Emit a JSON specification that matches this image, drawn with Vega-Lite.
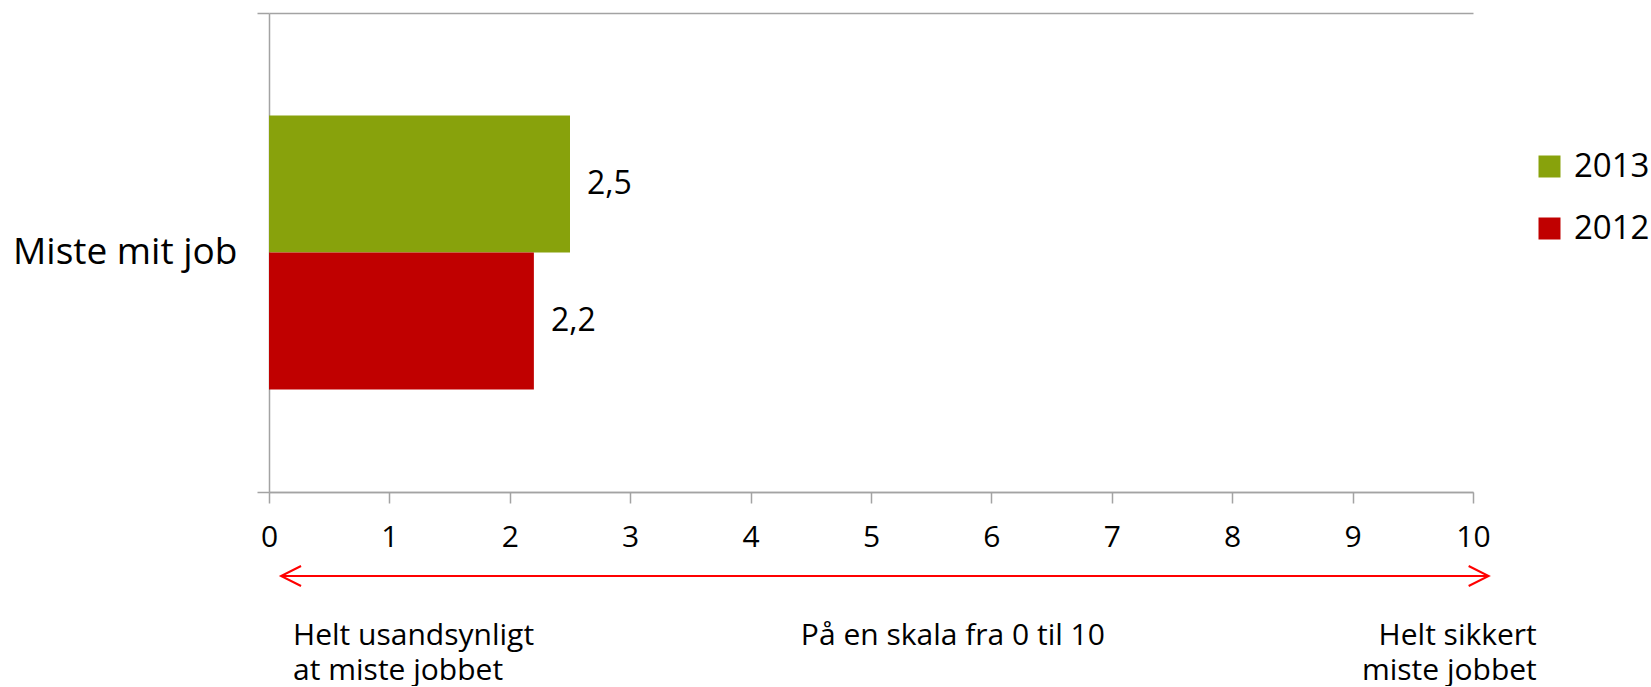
{
  "$schema": "https://vega.github.io/schema/vega-lite/v6.json",
  "padding": {"left": 12, "top": -6, "right": 0, "bottom": 0},
  "background": "white",
  "config": {
    "view": {"stroke": null},
    "font": "Open Sans",
    "text": {"font": "Open Sans", "color": "#000000"}
  },
  "datasets": {
    "bars": [
      {"kategori": "Miste mit job", "aar": "2013", "score": 2.5, "label": "2,5"},
      {"kategori": "Miste mit job", "aar": "2012", "score": 2.2, "label": "2,2"}
    ],
    "pil": [{"del": "pil", "fra": 0.1, "til": 10.13}],
    "pilspidser": [
      {"del": "pil", "retning": "venstre", "x": 0.1},
      {"del": "pil", "retning": "hoejre", "x": 10.13}
    ],
    "tekster": [
      {"del": "tekst", "side": "venstre", "x": 0.2, "tekst": "Helt usandsynligt\nat miste jobbet"},
      {"del": "tekst", "side": "midt", "x": 5.68, "tekst": "På en skala fra 0 til 10"},
      {"del": "tekst", "side": "hoejre", "x": 10.53, "tekst": "Helt sikkert\nmiste jobbet"}
    ]
  },
  "bounds": "flush",
  "spacing": 84,
  "vconcat": [
    {
      "width": 1204,
      "height": 479,
      "data": {"name": "bars"},
      "encoding": {
        "y": {
          "field": "kategori", "type": "nominal", "title": null,
          "scale": {"paddingInner": 0, "paddingOuter": 0},
          "axis": {
            "tickBand": "extent", "grid": true, "gridColor": "#A3A3A3", "gridWidth": 1.5,
            "domainColor": "#A3A3A3", "domainWidth": 1.5,
            "tickColor": "#A3A3A3", "tickWidth": 1.5, "tickSize": 12,
            "labelFontSize": 37, "labelPadding": 20, "labelColor": "#000000", "labelFont": "Open Sans",
            "labelLimit": 0
          }
        },
        "yOffset": {
          "field": "aar", "type": "nominal", "sort": ["2013", "2012"],
          "scale": {"domain": ["2013", "2012"], "paddingInner": 0, "paddingOuter": 0.748}
        },
        "x": {
          "field": "score", "type": "quantitative", "title": null,
          "scale": {"domain": [0, 10], "nice": false},
          "axis": {
            "grid": false, "values": [0,1,2,3,4,5,6,7,8,9,10], "labelOverlap": false,
            "domainColor": "#A3A3A3", "domainWidth": 1.5,
            "tickColor": "#A3A3A3", "tickWidth": 1.5, "tickSize": 11,
            "labelFontSize": 30, "labelPadding": 19, "labelColor": "#000000", "labelFont": "Open Sans",
            "labelFlush": false
          }
        }
      },
      "layer": [
        {
          "mark": {"type": "bar"},
          "encoding": {
            "color": {
              "field": "aar", "type": "nominal",
              "scale": {"domain": ["2013", "2012"], "range": ["#88A20C", "#C00000"]},
              "legend": {
                "title": null, "orient": "none", "legendX": 1264, "legendY": 137,
                "symbolType": "square", "symbolSize": 484, "symbolStrokeWidth": 0,
                "labelFontSize": 33, "labelFont": "Open Sans", "labelColor": "#000000",
                "labelOffset": 8, "rowPadding": 28
              }
            }
          }
        },
        {
          "mark": {"type": "text", "align": "left", "baseline": "middle", "dx": 17, "fontSize": 32},
          "encoding": {"text": {"field": "label"}}
        }
      ]
    },
    {
      "width": 1204,
      "height": 45,
      "encoding": {
        "y": {"field": "del", "type": "nominal", "scale": {"type": "point", "domain": ["pil", "tekst"], "padding": 0}, "axis": null}
      },
      "layer": [
        {
          "data": {"name": "pil"},
          "mark": {"type": "rule", "color": "#FF0000", "strokeWidth": 2},
          "encoding": {
            "x": {"field": "fra", "type": "quantitative", "scale": {"domain": [0, 10], "nice": false}, "axis": null},
            "x2": {"field": "til"}
          }
        },
        {
          "data": {"name": "pilspidser"},
          "mark": {"type": "point", "filled": false, "stroke": "#FF0000", "strokeWidth": 2, "size": 400, "opacity": 1},
          "encoding": {
            "x": {"field": "x", "type": "quantitative", "scale": {"domain": [0, 10], "nice": false}, "axis": null},
            "shape": {
              "field": "retning", "type": "nominal", "legend": null,
              "scale": {"domain": ["venstre", "hoejre"], "range": ["M2,-1L0,0L2,1", "M-2,-1L0,0L-2,1"]}
            }
          }
        },
        {
          "data": {"name": "tekster"},
          "transform": [{"filter": "datum.side == 'venstre'"}],
          "mark": {"type": "text", "align": "left", "baseline": "top", "fontSize": 30, "lineBreak": "\n", "lineHeight": 35},
          "encoding": {
            "x": {"field": "x", "type": "quantitative", "scale": {"domain": [0, 10], "nice": false}, "axis": null},
            "text": {"field": "tekst"}
          }
        },
        {
          "data": {"name": "tekster"},
          "transform": [{"filter": "datum.side == 'midt'"}],
          "mark": {"type": "text", "align": "center", "baseline": "top", "fontSize": 30, "lineBreak": "\n", "lineHeight": 35},
          "encoding": {
            "x": {"field": "x", "type": "quantitative", "scale": {"domain": [0, 10], "nice": false}, "axis": null},
            "text": {"field": "tekst"}
          }
        },
        {
          "data": {"name": "tekster"},
          "transform": [{"filter": "datum.side == 'hoejre'"}],
          "mark": {"type": "text", "align": "right", "baseline": "top", "fontSize": 30, "lineBreak": "\n", "lineHeight": 35},
          "encoding": {
            "x": {"field": "x", "type": "quantitative", "scale": {"domain": [0, 10], "nice": false}, "axis": null},
            "text": {"field": "tekst"}
          }
        }
      ]
    }
  ]
}
